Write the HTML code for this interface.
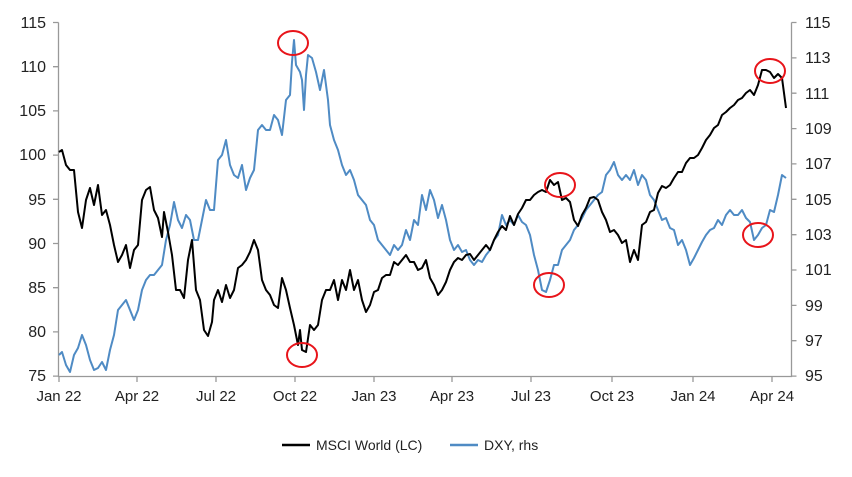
<!DOCTYPE html><html><head><style>body{margin:0;background:#fff}svg{display:block}text{font-family:"Liberation Sans",sans-serif;fill:#222}</style></head><body>
<svg width="852" height="477" viewBox="0 0 852 477">
<g stroke="#999" stroke-width="1.3" fill="none">
<path d="M58.5 22.5V376.5H791.5V22.5"/>
<path d="M53 22.5h5.5M53 66.7h5.5M53 110.9h5.5M53 155.1h5.5M53 199.3h5.5M53 243.5h5.5M53 287.7h5.5M53 331.9h5.5M53 376.1h5.5"/>
<path d="M791.5 22.5h5M791.5 57.9h5M791.5 93.2h5M791.5 128.6h5M791.5 163.9h5M791.5 199.3h5M791.5 234.7h5M791.5 270h5M791.5 305.4h5M791.5 340.7h5M791.5 376.1h5"/>
<path d="M59 376v6M137 376v6M216 376v6M295 376v6M374 376v6M452 376v6M531 376v6M612 376v6M693 376v6M772 376v6"/>
</g>
<g font-size="16" text-anchor="end">
<text x="46" y="28">115</text><text x="46" y="72">110</text><text x="46" y="116">105</text><text x="46" y="160">100</text><text x="46" y="205">95</text><text x="46" y="249">90</text><text x="46" y="293">85</text><text x="46" y="337">80</text><text x="46" y="381">75</text></g>
<g font-size="16">
<text x="805" y="28">115</text><text x="805" y="63">113</text><text x="805" y="99">111</text><text x="805" y="134">109</text><text x="805" y="169">107</text><text x="805" y="205">105</text><text x="805" y="240">103</text><text x="805" y="275">101</text><text x="805" y="311">99</text><text x="805" y="346">97</text><text x="805" y="381">95</text></g>
<g font-size="15" text-anchor="middle">
<text x="59" y="401">Jan 22</text><text x="137" y="401">Apr 22</text><text x="216" y="401">Jul 22</text><text x="295" y="401">Oct 22</text><text x="374" y="401">Jan 23</text><text x="452" y="401">Apr 23</text><text x="531" y="401">Jul 23</text><text x="612" y="401">Oct 23</text><text x="693" y="401">Jan 24</text><text x="772" y="401">Apr 24</text></g>
<polyline fill="none" stroke="#4f8bc4" stroke-width="2" stroke-linejoin="round" points="59,355 62,352 66,365 70,372 74,355 78,348 82,335 86,345 90,360 94,370 98,368 102,362 106,370 110,350 114,335 118,310 122,305 126,300 130,310 134,320 138,310 142,290 146,280 150,275 154,275 158,270 162,265 166,240 170,225 174,202 178,220 182,228 186,215 190,220 194,240 198,240 202,220 206,200 210,210 214,210 218,160 222,155 226,140 230,165 234,175 238,178 242,165 246,190 250,178 254,170 258,130 262,125 266,130 270,130 274,115 278,120 282,135 286,100 290,95 292,62 294,40 296,65 300,72 302,80 304,110 306,75 308,55 312,58 316,72 320,90 324,70 328,100 330,125 334,140 338,150 342,165 346,175 350,170 354,180 358,195 362,200 366,205 370,220 374,225 378,240 382,245 386,250 390,255 394,245 398,250 402,245 406,230 410,240 414,220 418,225 422,195 426,210 430,190 434,200 438,218 442,205 446,220 450,240 454,250 458,245 462,252 466,250 470,260 474,265 478,260 482,262 486,255 490,250 494,240 498,235 502,215 506,225 510,220 514,225 518,215 522,222 526,225 530,235 534,255 538,270 542,290 546,292 550,280 554,265 558,265 562,250 566,245 570,240 574,230 578,225 582,218 586,210 590,205 594,200 598,195 602,192 606,175 610,170 614,162 618,175 622,180 626,175 630,180 634,170 638,185 642,175 646,180 650,195 654,200 658,210 662,220 666,218 670,228 674,230 678,245 682,240 686,250 690,265 694,258 698,250 702,242 706,235 710,230 714,228 718,220 722,225 726,215 730,210 734,215 738,215 742,210 746,218 750,222 754,240 758,235 762,228 766,225 770,210 774,212 778,195 782,175 786,178"/>
<polyline fill="none" stroke="#000" stroke-width="2" stroke-linejoin="round" points="59,152 62,150 66,165 70,170 74,170 78,212 82,228 86,200 90,188 94,205 98,185 102,215 106,210 110,225 114,245 118,262 122,255 126,245 130,268 134,250 138,245 142,200 146,190 150,187 154,210 158,218 162,237 164,212 168,232 172,255 176,290 180,290 184,298 188,260 192,240 196,290 200,300 204,330 208,336 212,322 214,300 218,290 222,302 226,285 230,298 234,290 238,268 242,265 246,260 250,252 254,240 258,250 262,280 266,290 270,295 274,305 278,308 282,278 286,290 290,308 294,325 298,345 300,330 302,350 306,352 310,325 314,330 318,325 322,300 326,290 330,290 334,280 338,300 342,280 346,290 350,270 354,290 358,280 362,300 366,312 370,305 374,292 378,290 382,278 386,275 390,275 394,262 398,265 402,260 406,255 410,262 414,262 418,270 422,268 426,260 430,278 434,285 438,295 442,290 446,282 450,270 454,262 458,258 462,260 466,255 470,254 474,260 478,255 482,250 486,245 490,250 494,240 498,232 502,226 506,230 510,216 514,225 518,214 522,208 526,200 530,200 534,195 538,192 542,190 546,192 550,180 554,185 558,182 562,200 566,198 570,202 574,220 578,226 582,215 586,208 590,198 594,197 598,200 602,212 606,220 610,232 614,230 618,235 622,243 626,240 630,262 634,250 638,260 642,225 646,222 650,212 654,210 658,193 662,186 666,188 670,185 674,178 678,172 682,172 686,163 690,158 694,158 698,155 702,148 706,140 710,135 714,128 718,125 722,115 726,112 730,108 734,105 738,100 742,98 746,93 750,90 754,95 758,85 762,70 766,70 770,72 774,78 778,74 782,78 786,108"/>
<g fill="none" stroke="#e8141a" stroke-width="2">
<ellipse cx="293" cy="43" rx="15" ry="12"/><ellipse cx="302" cy="355" rx="15" ry="12"/><ellipse cx="560" cy="185" rx="15" ry="12"/><ellipse cx="549" cy="285" rx="15" ry="12"/><ellipse cx="770" cy="71" rx="15" ry="12"/><ellipse cx="758" cy="235" rx="15" ry="12"/></g>
<line x1="282" y1="445" x2="310" y2="445" stroke="#000" stroke-width="2.5"/><text x="316" y="450" font-size="14">MSCI World (LC)</text>
<line x1="450" y1="445" x2="478" y2="445" stroke="#4f8bc4" stroke-width="2.5"/><text x="484" y="450" font-size="14">DXY, rhs</text>
</svg></body></html>
